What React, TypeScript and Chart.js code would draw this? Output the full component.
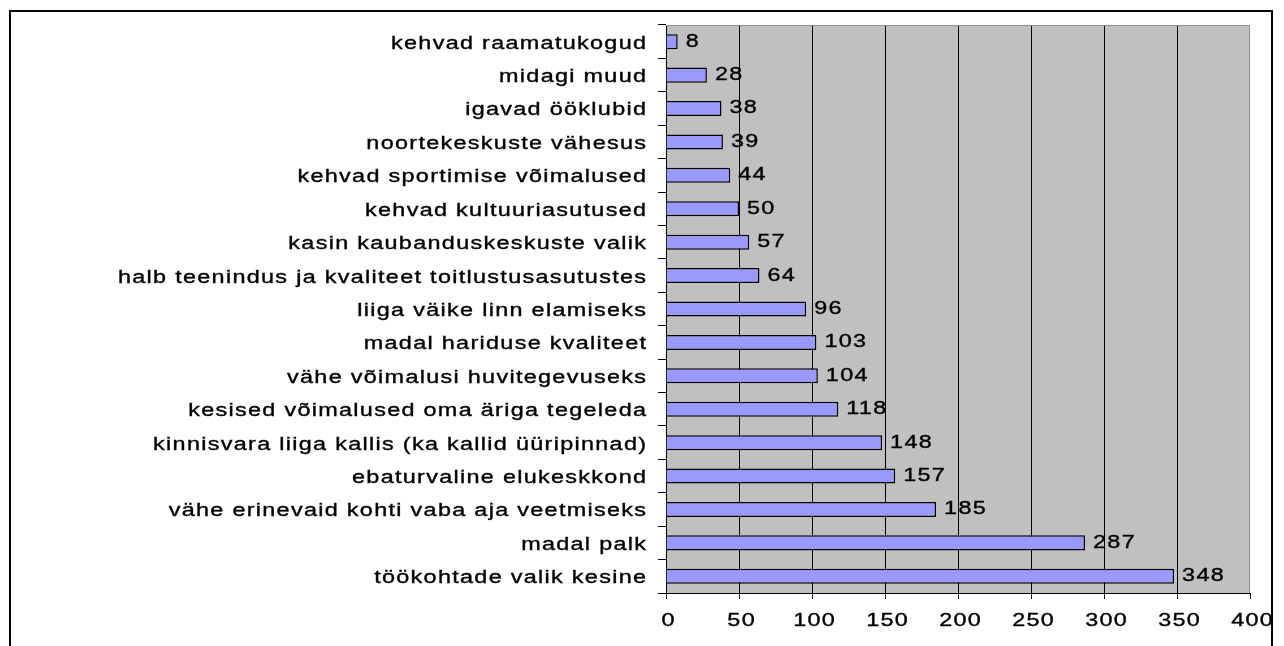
import React, { useEffect, useRef } from "react";
import { Chart, registerables } from "chart.js";

Chart.register(...registerables);

const categories: string[] = [
  "kehvad raamatukogud",
  "midagi muud",
  "igavad ööklubid",
  "noortekeskuste vähesus",
  "kehvad sportimise võimalused",
  "kehvad kultuuriasutused",
  "kasin kaubanduskeskuste valik",
  "halb teenindus ja kvaliteet toitlustusasutustes",
  "liiga väike linn elamiseks",
  "madal hariduse kvaliteet",
  "vähe võimalusi huvitegevuseks",
  "kesised võimalused oma äriga tegeleda",
  "kinnisvara liiga kallis (ka kallid üüripinnad)",
  "ebaturvaline elukeskkond",
  "vähe erinevaid kohti vaba aja veetmiseks",
  "madal palk",
  "töökohtade valik kesine",
];

const values: number[] = [8, 28, 38, 39, 44, 50, 57, 64, 96, 103, 104, 118, 148, 157, 185, 287, 348];

const xMin = 0;
const xMax = 400;
const xStep = 50;

const FONT = "Arial, 'Liberation Sans', sans-serif";
const SX = 1.3;
const LS = 1.0;

function drawText(ctx: any, text: string, x: number, y: number, align: "left" | "right" | "center") {
  ctx.save();
  ctx.font = `18px ${FONT}`;
  ctx.fillStyle = "#000000";
  ctx.strokeStyle = "#000000";
  ctx.lineWidth = 0.35;
  ctx.textBaseline = "middle";
  try {
    ctx.letterSpacing = `${LS}px`;
  } catch (e) {}
  const w = ctx.measureText(text).width;
  ctx.translate(x, y);
  ctx.scale(SX, 1);
  let x0 = 0;
  if (align === "right") x0 = -w + LS;
  else if (align === "center") x0 = -(w - LS) / 2;
  ctx.textAlign = "left";
  ctx.fillText(text, x0, 0);
  ctx.strokeText(text, x0, 0);
  ctx.restore();
}

const frame = {
  id: "frame",
  beforeDraw(chart: any) {
    const { ctx, chartArea } = chart;
    ctx.save();
    ctx.fillStyle = "#ffffff";
    ctx.fillRect(0, 0, chart.width, chart.height);
    ctx.fillStyle = "#C0C0C0";
    ctx.fillRect(chartArea.left, chartArea.top, chartArea.right - chartArea.left, chartArea.bottom - chartArea.top);
    ctx.restore();
  },
  afterDatasetsDraw(chart: any) {
    const { ctx } = chart;
    const meta = chart.getDatasetMeta(0);
    meta.data.forEach((bar: any, i: number) => {
      drawText(ctx, String(values[i]), bar.x + 8, bar.y, "left");
    });
  },
  afterDraw(chart: any) {
    const { ctx, chartArea } = chart;
    ctx.save();
    ctx.strokeStyle = "#909090";
    ctx.lineWidth = 1;
    ctx.beginPath();
    ctx.moveTo(chartArea.left, chartArea.top + 0.5);
    ctx.lineTo(chartArea.right - 0.5, chartArea.top + 0.5);
    ctx.lineTo(chartArea.right - 0.5, chartArea.bottom);
    ctx.stroke();
    ctx.strokeStyle = "#000000";
    ctx.lineWidth = 2;
    ctx.beginPath();
    ctx.moveTo(10, chart.height + 10);
    ctx.lineTo(10, 11);
    ctx.lineTo(1272, 11);
    ctx.lineTo(1272, chart.height + 10);
    ctx.stroke();
    ctx.restore();

    const yScale = chart.scales.y;
    categories.forEach((c, i) => {
      drawText(ctx, c, 646, yScale.getPixelForTick(i) + 2, "right");
    });
    const xScale = chart.scales.x;
    xScale.ticks.forEach((t: any) => {
      drawText(ctx, String(t.value), xScale.getPixelForValue(t.value) + 2, 621, "center");
    });
  },
};

export default function App() {
  const ref = useRef<HTMLCanvasElement>(null);
  useEffect(() => {
    if (!ref.current) return;
    const chart = new Chart(ref.current, {
      type: "bar",
      data: {
        labels: categories,
        datasets: [
          {
            data: values,
            backgroundColor: "#9999FF",
            borderColor: "#000000",
            borderWidth: 1.5,
            barPercentage: 0.45,
            categoryPercentage: 1,
          },
        ],
      },
      options: {
        indexAxis: "y",
        animation: false,
        responsive: false,
        maintainAspectRatio: false,
        layout: { padding: { left: 10, top: 25, right: 34, bottom: 0 } },
        plugins: { legend: { display: false }, tooltip: { enabled: false } },
        scales: {
          x: {
            min: xMin,
            max: xMax,
            ticks: { stepSize: xStep, color: "rgba(0,0,0,0)", font: { size: 18, family: FONT }, padding: 8, maxRotation: 0 },
            grid: {
              color: (c: any) => (c.tick && c.tick.value === xMax ? "rgba(0,0,0,0)" : "#000"),
              tickColor: "#000",
              lineWidth: 1,
              tickLength: 6,
              drawOnChartArea: true,
            },
            border: { color: "#000", width: 1 },
            afterFit(scale: any) {
              scale.height = 53;
            },
          },
          y: {
            ticks: { color: "rgba(0,0,0,0)", font: { size: 18, family: FONT }, padding: 12, autoSkip: false },
            grid: { color: "#000", lineWidth: 1, tickLength: 8, drawOnChartArea: false, offset: true },
            border: { color: "#000", width: 1 },
            afterFit(scale: any) {
              scale.width = 656;
            },
          },
        },
      },
      plugins: [frame],
    });
    return () => chart.destroy();
  }, []);
  return (
    <canvas
      ref={ref}
      width={1284}
      height={646}
      style={{ position: "fixed", left: 0, top: 0, width: 1284, height: 646 }}
    />
  );
}
